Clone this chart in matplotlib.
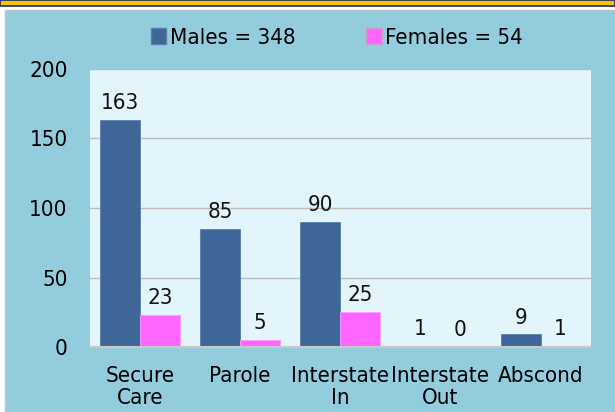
import matplotlib
matplotlib.use('Agg')
import matplotlib.pyplot as plt
from matplotlib.patches import Rectangle, Patch
import numpy as np

plt.rcParams['font.family'] = ['Liberation Sans Narrow', 'DejaVu Sans']
plt.rcParams['font.stretch'] = 'condensed'

# data
categories = ['Secure\nCare', 'Parole', 'Interstate\nIn', 'Interstate\nOut', 'Abscond']
males = [163, 85, 90, 1, 9]
females = [23, 5, 25, 0, 1]
legend_labels = ['Males = 348', 'Females = 54']

male_color = '#3e6699'
female_color = '#ff66ff'
panel_color = '#93cddd'
plot_bg = '#e3f5fc'

fig = plt.figure(figsize=(6.15, 4.12), dpi=100)

# top strip and panel
fig.patches.append(Rectangle((0, 1 - 6 / 412), 1, 6 / 412, transform=fig.transFigure,
                             facecolor='#f5c400', edgecolor='#1f2a6b', linewidth=1.2, zorder=-2))
fig.patches.append(Rectangle((5 / 615, 0), 1, 1 - 10 / 412, transform=fig.transFigure,
                             facecolor=panel_color, edgecolor='#b8c4c8', linewidth=1, zorder=-2))

ax = fig.add_axes([90 / 615, 1 - 347 / 412, 500.7 / 615, 278 / 412])
ax.set_facecolor(plot_bg)

x = np.arange(len(categories))
w = 0.4
b1 = ax.bar(x - w / 2, males, w, color=male_color, edgecolor='#5a7fae', linewidth=0.6)
b2 = ax.bar(x + w / 2, females, w, color=female_color, edgecolor='#ff99ff', linewidth=0.6)

for bars, vals in [(b1, males), (b2, females)]:
    for r, v in zip(bars, vals):
        ax.text(r.get_x() + r.get_width() / 2, v + 5, str(v), ha='center', va='bottom',
                fontsize=16, color='#111111')

ax.set_xlim(-0.5, len(categories) - 0.5)
ax.set_ylim(0, 200)
ax.set_yticks([0, 50, 100, 150, 200])
ax.set_xticks(x)
ax.set_xticklabels(categories, fontsize=16, linespacing=1.1)
ax.tick_params(axis='y', length=0, pad=16, labelsize=16)
ax.tick_params(axis='x', length=0, pad=14)
ax.yaxis.grid(True, color='#bcbcbc', linewidth=1)
ax.set_axisbelow(True)
for s in ['top', 'right', 'left']:
    ax.spines[s].set_visible(False)
ax.spines['bottom'].set_color('#c8c8c8')
ax.spines['bottom'].set_linewidth(1.5)

handles = [Patch(facecolor=male_color, edgecolor='#5a7fae'),
           Patch(facecolor=female_color, edgecolor='#c8a0c8')]
fig.legend(handles, legend_labels, loc='center', bbox_to_anchor=(337 / 615, 1 - 38 / 412),
           ncol=2, frameon=False, fontsize=16, handlelength=0.7, handleheight=0.7,
           handletextpad=0.15, columnspacing=3.2)

fig.savefig('out.png', dpi=100)
